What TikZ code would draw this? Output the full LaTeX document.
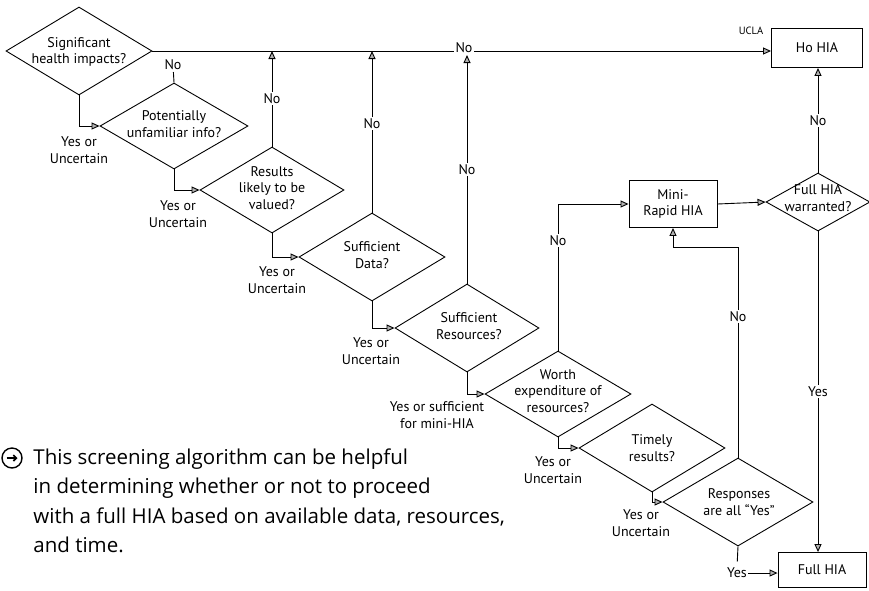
\documentclass[tikz,border=0pt]{standalone}
\usepackage{fontspec}
\setmainfont{PT Sans}
\newfontfamily\notefont{Open Sans}
\usetikzlibrary{shapes.geometric,arrows.meta}

\begin{document}
\begin{tikzpicture}[x=1pt,y=-1pt,line width=0.9pt,
  font=\fontsize{14}{16.5}\selectfont,
  dec/.style={diamond, draw, inner sep=0pt},
  box/.style={rectangle, draw, inner sep=0pt, align=center},
  txt/.style={align=center, inner sep=1pt},
  ans/.style={align=center, inner sep=1.5pt, fill=white},
  arr/.style={-{Triangle[length=8pt,width=7pt,fill=gray!60]}}]
  \useasboundingbox (0,0) rectangle (869,590);

  % decisions
  \node[dec, minimum width=146pt, minimum height=88pt] (sig) at (79,51) {};
  \node[txt] (sigtxt) at (79,52) {Significant\\health impacts?};
  \node[dec, minimum width=148pt, minimum height=86pt] (unf) at (174,126) {};
  \node[txt] (unftxt) at (174,124) {Potentially\\unfamiliar info?};
  \node[dec, minimum width=144pt, minimum height=86pt] (val) at (272,190) {};
  \node[txt] (valtxt) at (272,188) {Results\\likely to be\\valued?};
  \node[dec, minimum width=146pt, minimum height=88pt] (data) at (372,257) {};
  \node[txt] (datatxt) at (372,255) {Sufficient\\Data?};
  \node[dec, minimum width=144pt, minimum height=88pt] (res) at (467,328) {};
  \node[txt] (restxt) at (469,326) {Sufficient\\Resources?};
  \node[dec, minimum width=146pt, minimum height=86pt] (worth) at (558,394) {};
  \node[txt] (worthtxt) at (558,391) {Worth\\expenditure of\\resources?};
  \node[dec, minimum width=146pt, minimum height=88pt] (timely) at (652,448) {};
  \node[txt] (timelytxt) at (652,448) {Timely\\results?};
  \node[dec, minimum width=150pt, minimum height=88pt] (resp) at (738,502) {};
  \node[txt] (resptxt) at (739,502) {Responses\\are all “Yes”};
  \node[dec, minimum width=104pt, minimum height=58pt] (warr) at (818,202) {};
  \node[txt] (warrtxt) at (818,198) {Full HIA\\warranted?};

  % outcomes
  \node[box, minimum width=91pt, minimum height=39pt] (ho) at (817,48) {Ho HIA};
  \node[box, minimum width=88pt, minimum height=47pt] (mini) at (673,204) {Mini-\\Rapid HIA};
  \node[box, minimum width=88pt, minimum height=35pt] (full) at (822,570) {Full HIA};
  \node[txt, font=\fontsize{10.5}{12}\selectfont] (ucla) at (751,31) {UCLA};

  % no branches
  \draw[arr] (sig.east) -- (sig.east -| ho.west);
  \node[ans] (notop) at (464,48) {No};
  \node[ans] (no2) at (173,65) {No};
  \draw (unf.north) -- (no2);
  \draw[arr] (val.north) -- (val.north |- sig.east) node[ans, pos=0.5] (no3) {No};
  \draw[arr] (data.north) -- (data.north |- sig.east) node[ans, pos=0.55] (no4) {No};
  \draw[arr] (res.north) -- (res.north |- notop.south) node[ans, pos=0.5] (no5) {No};
  \draw[arr] (worth.north) -- (worth.north |- mini.west) node[ans, pos=0.75] (no6) {No} -- (mini.west);
  \draw[arr] (resp.north) -- (738,247) node[ans, pos=0.67] (no8) {No} -| (mini.south);
  \draw[arr] (mini.east) -- (warr.west);
  \draw[arr] (warr.north) -- (warr.north |- ho.south) node[ans, pos=0.5] (no9) {No};
  \draw[arr] (warr.south) -- (warr.south |- full.north) node[ans, pos=0.5] (yes9) {Yes};

  % yes branches
  \draw[arr] (sig.south) |- (unf.west);
  \node[txt] (yes1) at (79,150) {Yes or\\Uncertain};
  \draw[arr] (unf.south) |- (val.west);
  \node[txt] (yes2) at (178,214) {Yes or\\Uncertain};
  \draw[arr] (val.south) |- (data.west);
  \node[txt] (yes3) at (277,280) {Yes or\\Uncertain};
  \draw[arr] (data.south) |- (res.west);
  \node[txt] (yes4) at (371,351) {Yes or\\Uncertain};
  \draw[arr] (res.south) |- (worth.west);
  \node[txt] (yes5) at (437,415) {Yes or sufficient\\for mini-HIA};
  \draw[arr] (worth.south) |- (timely.west);
  \node[txt] (yes6) at (553,470) {Yes or\\Uncertain};
  \draw[arr] (timely.south) |- (resp.west);
  \node[txt] (yes7) at (641,523) {Yes or\\Uncertain};
  \node[txt] (yes8) at (737,573) {Yes};
  \draw[shorten >=5pt] (resp.south) -- (yes8.north);
  \draw[arr] (yes8.east) -- (yes8.east -| full.west);

  % note
  \node[circle, draw, line width=1.4pt, minimum size=20pt, inner sep=0pt] (bullet) at (12,458) {};
  \draw[line width=1.6pt, -{Straight Barb[length=3pt]}] ([xshift=-5.5pt]bullet.center) -- ([xshift=5.5pt]bullet.center);
  \node[anchor=north west, align=left, inner sep=0pt,
    font=\notefont\fontsize{20.5}{29.5}\selectfont] (note) at (33,448)
    {This screening algorithm can be helpful\\in determining whether or not to proceed\\with a full HIA based on available data, resources,\\and time.};
\end{tikzpicture}
\end{document}
